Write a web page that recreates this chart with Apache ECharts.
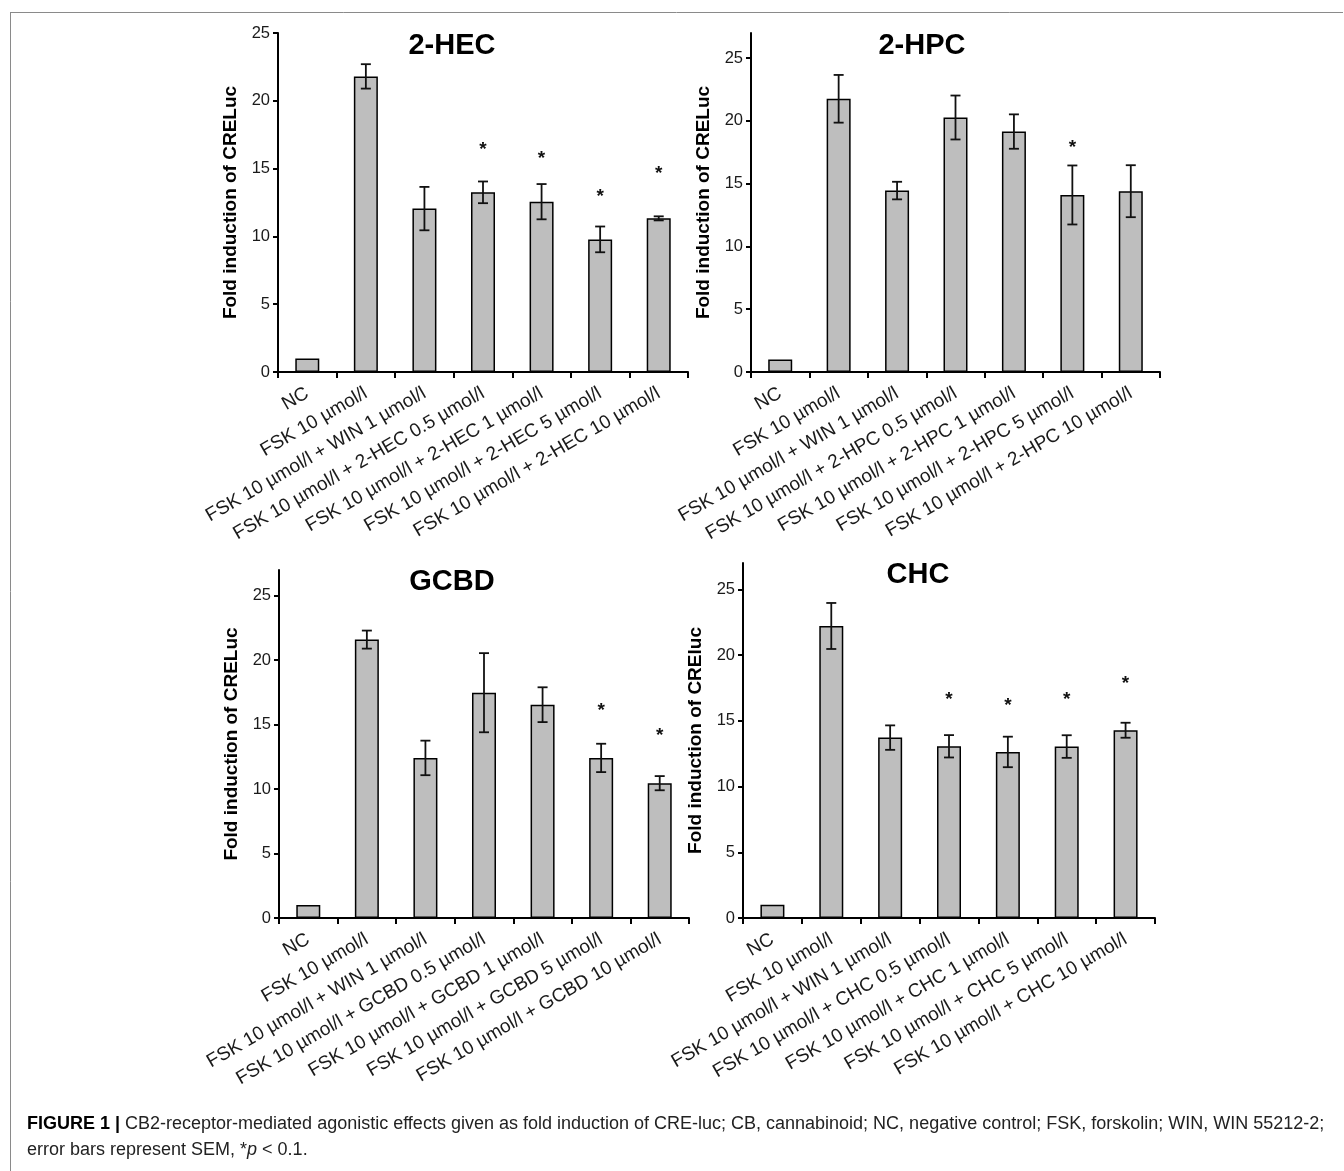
<!DOCTYPE html>
<html>
<head>
<meta charset="utf-8">
<script src="https://cdn.jsdelivr.net/npm/echarts@6/dist/echarts.min.js"></script>
<style>
html,body{margin:0;padding:0;background:#fff;}
#chart{width:1344px;height:1171px;}
</style>
</head>
<body>
<div id="chart"></div>
<script>
// ---------- DATA ----------
const titles = ['2-HEC', '2-HPC', 'GCBD', 'CHC'];
const yAxisNames = ['Fold induction of CRELuc', 'Fold induction of CRELuc', 'Fold induction of CRELuc', 'Fold induction of CREluc'];
const yTicks = [0, 5, 10, 15, 20, 25];
const yMaxes = [25, 27, 27, 27];

const categoriesHEC = ['NC', 'FSK 10 µmol/l', 'FSK 10 µmol/l + WIN 1 µmol/l', 'FSK 10 µmol/l + 2-HEC 0.5 µmol/l', 'FSK 10 µmol/l + 2-HEC 1 µmol/l', 'FSK 10 µmol/l + 2-HEC 5 µmol/l', 'FSK 10 µmol/l + 2-HEC 10 µmol/l'];
const valuesHEC = [1.0, 21.8, 12.05, 13.25, 12.56, 9.78, 11.33];
const errorsHEC = [0, 0.9, 1.6, 0.8, 1.3, 0.95, 0.15];
const starsHEC = [null, null, null, 16.7, 16.05, 13.25, 14.9];

const categoriesHPC = ['NC', 'FSK 10 µmol/l', 'FSK 10 µmol/l + WIN 1 µmol/l', 'FSK 10 µmol/l + 2-HPC 0.5 µmol/l', 'FSK 10 µmol/l + 2-HPC 1 µmol/l', 'FSK 10 µmol/l + 2-HPC 5 µmol/l', 'FSK 10 µmol/l + 2-HPC 10 µmol/l'];
const valuesHPC = [1.0, 21.76, 14.45, 20.27, 19.15, 14.1, 14.4];
const errorsHPC = [0, 1.9, 0.7, 1.75, 1.37, 2.35, 2.07];
const starsHPC = [null, null, null, null, null, 18.15, null];

const categoriesGCBD = ['NC', 'FSK 10 µmol/l', 'FSK 10 µmol/l + WIN 1 µmol/l', 'FSK 10 µmol/l + GCBD 0.5 µmol/l', 'FSK 10 µmol/l + GCBD 1 µmol/l', 'FSK 10 µmol/l + GCBD 5 µmol/l', 'FSK 10 µmol/l + GCBD 10 µmol/l'];
const valuesGCBD = [1.0, 21.6, 12.42, 17.48, 16.55, 12.42, 10.46];
const errorsGCBD = [0, 0.7, 1.34, 3.07, 1.35, 1.1, 0.55];
const starsGCBD = [null, null, null, null, null, 16.4, 14.45];

const categoriesCHC = ['NC', 'FSK 10 µmol/l', 'FSK 10 µmol/l + WIN 1 µmol/l', 'FSK 10 µmol/l + CHC 0.5 µmol/l', 'FSK 10 µmol/l + CHC 1 µmol/l', 'FSK 10 µmol/l + CHC 5 µmol/l', 'FSK 10 µmol/l + CHC 10 µmol/l'];
const valuesCHC = [1.0, 22.21, 13.72, 13.06, 12.63, 13.04, 14.28];
const errorsCHC = [0, 1.75, 0.93, 0.85, 1.16, 0.86, 0.57];
const starsCHC = [null, null, null, 16.88, 16.42, 16.88, 18.14];

const captionLine1 = 'CB2-receptor-mediated agonistic effects given as fold induction of CRE-luc; CB, cannabinoid; NC, negative control; FSK, forskolin; WIN, WIN 55212-2;';
const captionLine2Pre = 'error bars represent SEM, *';
const captionLine2P = 'p';
const captionLine2Post = ' < 0.1.';

// ---------- LAYOUT ----------
const panels = [
  {cats: categoriesHEC, vals: valuesHEC, errs: errorsHEC, stars: starsHEC},
  {cats: categoriesHPC, vals: valuesHPC, errs: errorsHPC, stars: starsHPC},
  {cats: categoriesGCBD, vals: valuesGCBD, errs: errorsGCBD, stars: starsGCBD},
  {cats: categoriesCHC, vals: valuesCHC, errs: errorsCHC, stars: starsCHC}
];
const grids = [
  {left: 278, top: 33, width: 410, height: 339},
  {left: 751, top: 33, width: 409, height: 339},
  {left: 279, top: 570, width: 410, height: 348},
  {left: 743, top: 563, width: 412, height: 355}
];
const titlePos = [[452, 46], [922, 46], [452, 582], [918, 575]];

const FONT = '"Liberation Sans", Arial, sans-serif';

const chart = echarts.init(document.getElementById('chart'), null, {renderer: 'canvas'});

function errRender(params, api) {
  const i = api.value(0), v = api.value(1), e = api.value(2);
  if (!e) return null;
  const top = api.coord([i, v + e]);
  const bot = api.coord([i, v - e]);
  const hw = 5;
  const st = {stroke: '#111', lineWidth: 1.8};
  return {
    type: 'group',
    children: [
      {type: 'line', shape: {x1: top[0], y1: top[1], x2: bot[0], y2: bot[1]}, style: st},
      {type: 'line', shape: {x1: top[0] - hw, y1: top[1], x2: top[0] + hw, y2: top[1]}, style: st},
      {type: 'line', shape: {x1: bot[0] - hw, y1: bot[1], x2: bot[0] + hw, y2: bot[1]}, style: st}
    ]
  };
}
function starRender(params, api) {
  const p = api.coord([api.value(0), api.value(1)]);
  return {
    type: 'text',
    x: p[0], y: p[1] + 4,
    style: {text: '*', fill: '#111', font: 'bold 19px ' + FONT, align: 'center', verticalAlign: 'middle'}
  };
}

const option = {
  animation: false,
  backgroundColor: '#fff',
  grid: grids.map(g => Object.assign({containLabel: false}, g)),
  xAxis: panels.map((p, k) => ({
    type: 'category', gridIndex: k, data: p.cats,
    axisLine: {show: true, lineStyle: {color: '#000', width: 2}},
    axisTick: {show: true, alignWithLabel: false, length: 6, lineStyle: {color: '#000', width: 2}},
    axisLabel: {interval: 0, rotate: 30, fontSize: 19, fontFamily: FONT, color: '#1a1a1a', margin: 20}
  })),
  yAxis: panels.map((p, k) => ({
    type: 'value', gridIndex: k, min: 0, max: yMaxes[k], interval: 5,
    name: yAxisNames[k], nameLocation: 'middle', nameGap: 38,
    nameTextStyle: {fontSize: 19, fontWeight: 'bold', fontFamily: FONT, color: '#000'},
    axisLine: {show: true, lineStyle: {color: '#000', width: 2}},
    axisTick: {show: true, length: 5, customValues: yTicks, lineStyle: {color: '#000', width: 2}},
    axisLabel: {fontSize: 16.5, fontFamily: FONT, color: '#1a1a1a', margin: 8, customValues: yTicks},
    splitLine: {show: false}
  })),
  series: [].concat(
    panels.map((p, k) => ({
      type: 'bar', xAxisIndex: k, yAxisIndex: k, data: p.vals, barWidth: 24, z: 2,
      itemStyle: {color: '#bebebe', borderColor: '#000', borderWidth: 1.5}
    })),
    panels.map((p, k) => ({
      type: 'custom', xAxisIndex: k, yAxisIndex: k, z: 3,
      data: p.vals.map((v, i) => [i, v, p.errs[i]]),
      encode: {x: 0, y: 1},
      renderItem: errRender
    })),
    panels.map((p, k) => ({
      type: 'custom', xAxisIndex: k, yAxisIndex: k, z: 3,
      data: p.stars.map((s, i) => s == null ? null : [i, s]).filter(d => d),
      encode: {x: 0, y: 1},
      renderItem: starRender
    }))
  ),
  graphic: [].concat(
    titles.map((t, k) => ({
      type: 'text', x: titlePos[k][0], y: titlePos[k][1], z: 10,
      style: {text: t, font: 'bold 29px ' + FONT, fill: '#000', align: 'center', verticalAlign: 'middle'}
    })),
    [
      {type: 'line', shape: {x1: 10, y1: 12.5, x2: 1343, y2: 12.5}, style: {stroke: '#8a8a8a', lineWidth: 1}},
      {type: 'line', shape: {x1: 10.5, y1: 12, x2: 10.5, y2: 1171}, style: {stroke: '#8a8a8a', lineWidth: 1}},
      {type: 'text', x: 27, y: 1124, style: {
        text: '{b|FIGURE 1 |} ' + captionLine1,
        font: '18px ' + FONT, fill: '#222', verticalAlign: 'middle',
        rich: {b: {fontWeight: 'bold', fontSize: 18, fontFamily: FONT, fill: '#000'}}
      }},
      {type: 'text', x: 27, y: 1150, style: {
        text: captionLine2Pre + '{i|' + captionLine2P + '}' + captionLine2Post,
        font: '18px ' + FONT, fill: '#222', verticalAlign: 'middle',
        rich: {i: {fontStyle: 'italic', fontSize: 18, fontFamily: FONT}}
      }}
    ]
  )
};
chart.setOption(option);
</script>
</body>
</html>
